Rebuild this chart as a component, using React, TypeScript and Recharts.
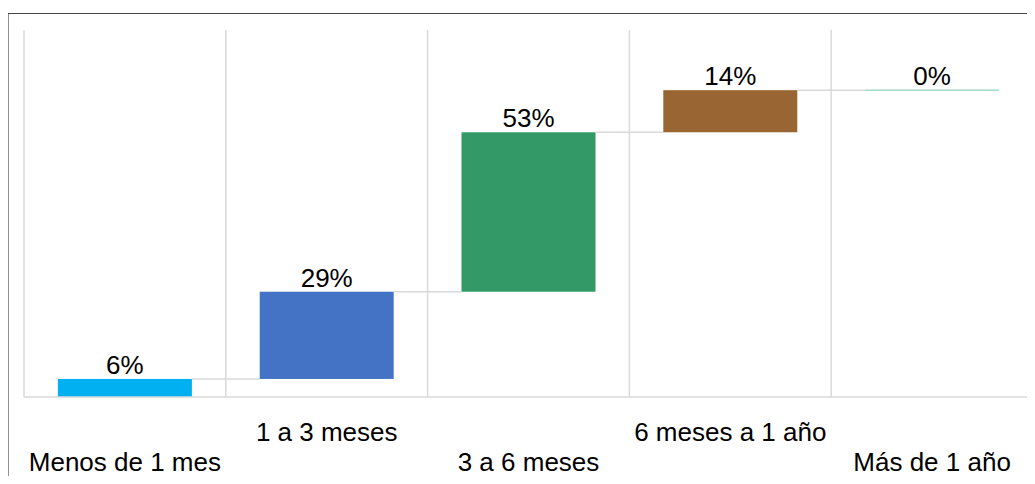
import { BarChart, Bar, XAxis, YAxis, CartesianGrid, Cell, LabelList, Customized } from 'recharts';

const categories = ['Menos de 1 mes', '1 a 3 meses', '3 a 6 meses', '6 meses a 1 año', 'Más de 1 año'];
const shares = [6, 29, 53, 14, 0];
const barColors = ['#00b0f0', '#4472c4', '#339966', '#996633', '#9fdcc0'];

// waterfall: invisible base + visible step
const rows = categories.map((name, i) => ({
  name,
  base: shares.slice(0, i).reduce((a, b) => a + b, 0),
  value: shares[i],
}));

const GAP = 0.168;
const FONT = '"Liberation Sans", Arial, sans-serif';

const StepBar = (props: any) => {
  const { x, y, width, height, index, fill } = props;
  const gap = (width * 2 * GAP) / (1 - 2 * GAP);
  const last = index === rows.length - 1;
  return (
    <g>
      {height >= 1 ? (
        <rect x={x} y={y} width={width} height={height} fill={fill} />
      ) : (
        <line x1={x} x2={x + width} y1={y} y2={y} stroke={fill} strokeWidth={1.5} />
      )}
      {!last && (
        <line x1={x + width} x2={x + width + gap} y1={y} y2={y} stroke="#d9d9d9" strokeWidth={1.5} />
      )}
    </g>
  );
};

const StaggerTick = (props: any) => {
  const { x, y, payload, index } = props;
  const dy = index % 2 === 1 ? 43.5 : 74;
  return (
    <text x={x} y={y + dy} textAnchor="middle" fontSize={26} fontFamily={FONT} fill="#000">
      {payload.value}
    </text>
  );
};

// outer frame of the chart box (top + left edges only)
const Frame = () => (
  <g>
    <line x1={7} x2={1035} y1={13.5} y2={13.5} stroke="#444" strokeWidth={1} />
    <line x1={7.5} x2={7.5} y1={13} y2={484} stroke="#222" strokeWidth={2} />
  </g>
);

const boundaries = ({ offset }: any) =>
  categories.map((_, i) => offset.left + (i * offset.width) / categories.length).concat(offset.left + offset.width);

export default function App() {
  return (
    <div
      style={{
        position: 'relative',
        width: 1035,
        height: 484,
        margin: -8,
        background: '#fff',
        overflow: 'hidden',
      }}
    >
      <BarChart
        width={1035}
        height={484}
        data={rows}
        margin={{ top: 30, right: 2, left: 24, bottom: 27 }}
        barCategoryGap={`${GAP * 100}%`}
      >
        <CartesianGrid
          horizontal={false}
          stroke="#d9d9d9"
          strokeWidth={1.5}
          verticalCoordinatesGenerator={boundaries}
        />
        <XAxis
          dataKey="name"
          interval={0}
          height={60}
          tickLine={false}
          tickSize={0}
          tickMargin={0}
          axisLine={{ stroke: '#d9d9d9', strokeWidth: 1.5 }}
          tick={<StaggerTick />}
        />
        <YAxis hide domain={[0, 122]} />
        <Bar dataKey="base" stackId="w" fill="transparent" isAnimationActive={false} />
        <Bar dataKey="value" stackId="w" shape={<StepBar />} isAnimationActive={false}>
          {rows.map((r, i) => (
            <Cell key={r.name} fill={barColors[i]} />
          ))}
          <LabelList
            dataKey="value"
            position="top"
            offset={5}
            formatter={(v: any) => `${v}%`}
            fontSize={26}
            fontFamily={FONT}
            fill="#000"
          />
        </Bar>
        <Customized component={<Frame />} />
      </BarChart>
    </div>
  );
}
